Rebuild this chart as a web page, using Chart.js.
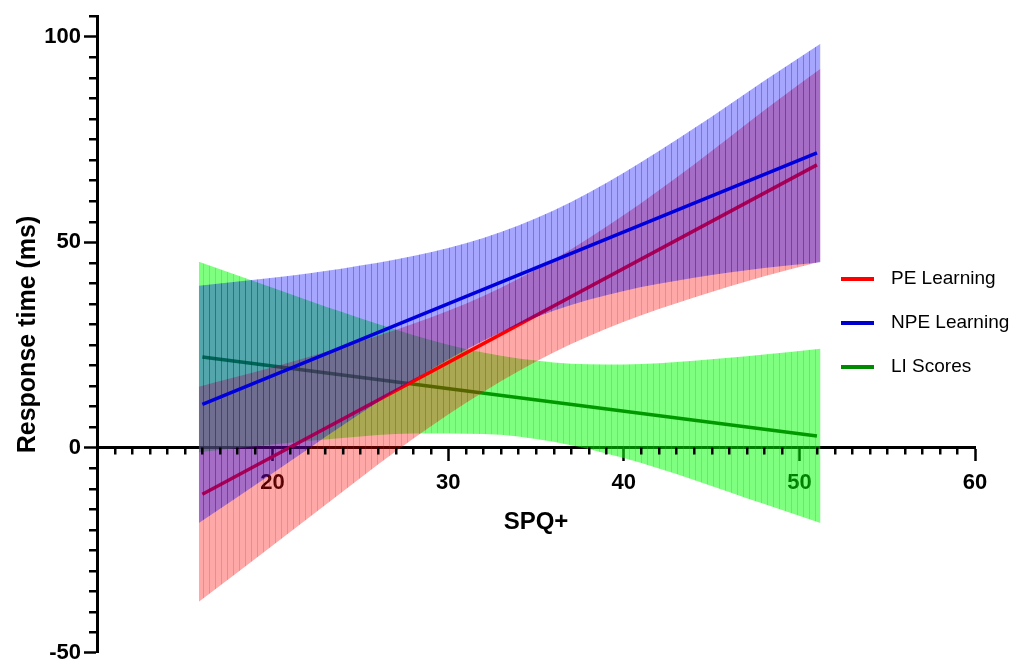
<!DOCTYPE html>
<html>
<head>
<meta charset="utf-8">
<script src="https://cdn.jsdelivr.net/npm/chart.js@4.4.1/dist/chart.umd.min.js"></script>
<style>
  html, body { margin: 0; padding: 0; background: #fff; }
  #wrap { width: 1010px; height: 669px; }
</style>
</head>
<body>
<div id="wrap"><canvas id="chart"></canvas></div>
<script>
// fitted lines, start and end of the SPQ+ range
const lineX = [16, 51];
const peLine = [-11.4, 68.8];
const npeLine = [10.5, 71.7];
const liLine = [22.0, 2.8];

// confidence bands, read at these SPQ+ values
const bandX = [15.8, 20, 24, 28, 32, 36, 40, 44, 48, 51.2];
const peUpper = [14.8, 19.5, 24.5, 30.1, 36.9, 45.7, 56.6, 68.9, 82.1, 92.2];
const peLower = [-37.6, -23.9, -10.7, 2.1, 13.5, 23.1, 30.6, 36.5, 41.7, 45.3];
const npeUpper = [39.4, 41.3, 43.6, 46.6, 51.0, 57.7, 66.9, 77.7, 89.3, 98.3];
const npeLower = [-18.4, -6.3, 5.4, 16.4, 26.0, 33.3, 38.1, 41.3, 43.7, 45.1];
const liUpper = [45.2, 38.9, 32.9, 27.4, 23.1, 20.7, 20.2, 21.1, 22.6, 24.0];
const liLower = [-1.2, 0.7, 2.3, 3.4, 3.3, 1.4, -2.6, -7.9, -13.8, -18.4];

const seriesNames = ['PE Learning', 'NPE Learning', 'LI Scores'];
const xTicks = [20, 30, 40, 50, 60];
const yTicks = [-50, 0, 50, 100];

Chart.defaults.font.family = '"Liberation Sans", Arial, sans-serif';
Chart.defaults.color = '#000';

// vertical striped fill, like the bars of the original band
function stripes(fill, line) {
  const c = document.createElement('canvas');
  c.width = 6; c.height = 1;
  const g = c.getContext('2d');
  g.fillStyle = fill; g.fillRect(0, 0, 6, 1);
  g.fillStyle = line; g.fillRect(5, 0, 1, 1);
  return g.createPattern(c, 'repeat');
}

const pts = (xs, ys) => xs.map((x, i) => ({ x: x, y: ys[i] }));

function band(name, upper, lower, pattern, order) {
  const common = { borderColor: 'transparent', borderWidth: 0, pointRadius: 0,
                   cubicInterpolationMode: 'monotone', order: order };
  return [
    Object.assign({ label: name + ' upper', data: pts(bandX, upper), fill: '+1', backgroundColor: pattern }, common),
    Object.assign({ label: name + ' lower', data: pts(bandX, lower), fill: false }, common)
  ];
}

function fitLine(name, ys, color, order) {
  return { label: name, data: pts(lineX, ys), borderColor: color, borderWidth: 3.5,
           pointRadius: 0, fill: false, order: order };
}

const lineColors = ['#ff0000', '#0000dd', '#009a00'];
const legendColors = ['#ff0000', '#0000cc', '#008a00'];

const datasets = [
  fitLine(seriesNames[1], npeLine, lineColors[1], 0),
  ...band(seriesNames[1], npeUpper, npeLower, stripes('rgba(0,0,255,0.35)', 'rgba(0,0,200,0.3)'), 1),
  fitLine(seriesNames[0], peLine, lineColors[0], 2),
  ...band(seriesNames[0], peUpper, peLower, stripes('rgba(255,0,0,0.34)', 'rgba(255,0,0,0.22)'), 3),
  fitLine(seriesNames[2], liLine, lineColors[2], 4),
  ...band(seriesNames[2], liUpper, liLower, stripes('rgba(0,255,0,0.5)', 'rgba(0,190,0,0.25)'), 5)
];

// small ticks between the labelled ones
const minorTicks = {
  id: 'minorTicks',
  afterDraw(chart) {
    const ctx = chart.ctx, xs = chart.scales.x, ys = chart.scales.y;
    const x0 = xs.getPixelForValue(xs.min), y0 = ys.getPixelForValue(0);
    ctx.save();
    ctx.strokeStyle = '#000';
    ctx.lineWidth = 2.5;
    ctx.beginPath();
    for (let v = xs.min + 1; v < xs.max; v++) {
      if (v % 10 === 0) continue;
      const p = Math.round(xs.getPixelForValue(v)) + 0.25;
      ctx.moveTo(p, y0); ctx.lineTo(p, y0 + 7);
    }
    for (let v = ys.min + 5; v <= ys.max; v += 5) {
      if (v % 50 === 0) continue;
      const p = Math.round(ys.getPixelForValue(v)) + 0.25;
      ctx.moveTo(x0, p); ctx.lineTo(x0 - 8, p);
    }
    ctx.stroke();
    ctx.restore();
  }
};

const legendBox = {
  id: 'legendBox',
  afterDraw(chart) {
    const ctx = chart.ctx;
    ctx.save();
    ctx.font = '19px "Liberation Sans", Arial, sans-serif';
    ctx.textBaseline = 'middle';
    seriesNames.forEach((name, i) => {
      const y = 279 + i * 44;
      ctx.fillStyle = legendColors[i];
      ctx.fillRect(841, y - 2, 33, 4);
      ctx.fillStyle = '#000';
      ctx.fillText(name, 891, y);
    });
    ctx.restore();
  }
};

new Chart(document.getElementById('chart'), {
  type: 'line',
  data: { datasets: datasets },
  options: {
    responsive: true,
    maintainAspectRatio: false,
    animation: false,
    layout: { padding: { left: 0, right: 35, top: 15, bottom: 0 } },
    plugins: { legend: { display: false }, tooltip: { enabled: false } },
    scales: {
      x: {
        type: 'linear',
        min: 10, max: 60,
        position: { y: 0 },
        afterBuildTicks: s => { s.ticks = xTicks.map(v => ({ value: v })); },
        ticks: { font: { size: 22, weight: 'bold' }, padding: 10, maxRotation: 0 },
        grid: { drawOnChartArea: false, drawTicks: true, tickLength: 12, tickWidth: 2.5, tickColor: '#000' },
        border: { display: true, color: '#000', width: 3 },
        title: { display: true, text: 'SPQ+', font: { size: 24, weight: 'bold' }, padding: { top: 2, bottom: 0 } }
      },
      y: {
        type: 'linear',
        min: -50, max: 105,
        afterBuildTicks: s => { s.ticks = yTicks.map(v => ({ value: v })); },
        afterFit: s => { s.width = 97; },
        ticks: { font: { size: 22, weight: 'bold' }, padding: 3 },
        grid: { drawOnChartArea: false, drawTicks: true, tickLength: 13, tickWidth: 2.5, tickColor: '#000' },
        border: { display: true, color: '#000', width: 3 },
        title: { display: true, text: 'Response time (ms)', font: { size: 25, weight: 'bold' }, padding: { top: 13, bottom: 0 } }
      }
    }
  },
  plugins: [minorTicks, legendBox]
});
</script>
</body>
</html>
